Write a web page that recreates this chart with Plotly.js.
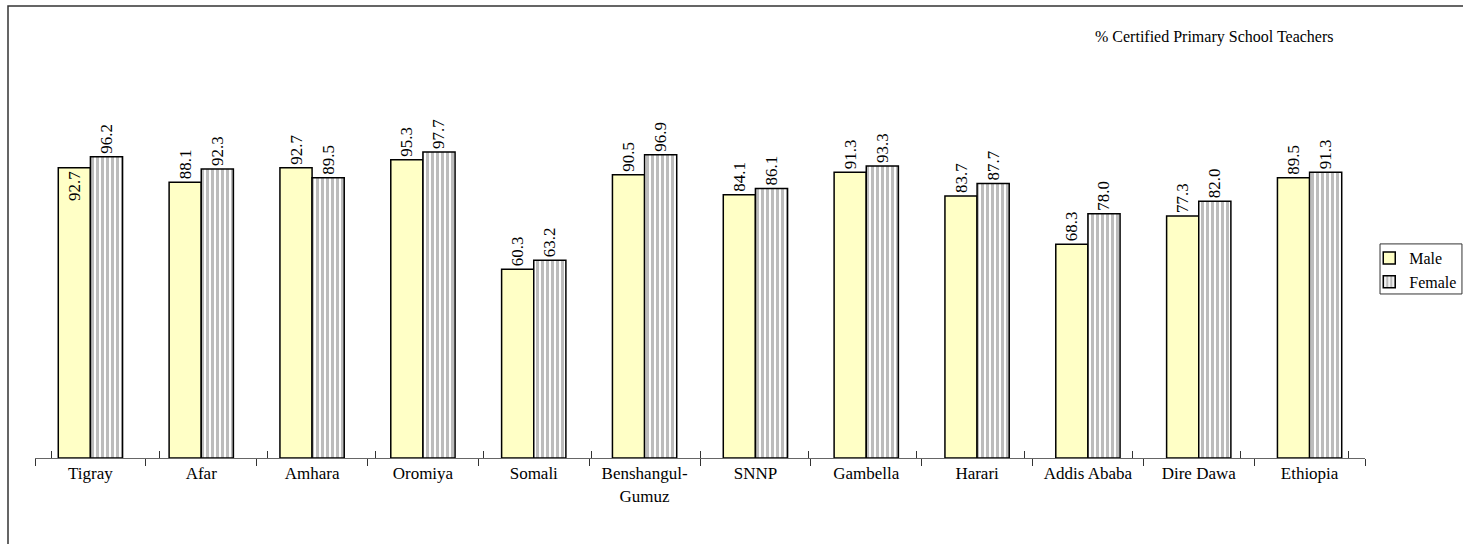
<!DOCTYPE html>
<html>
<head>
<meta charset="utf-8">
<script src="https://cdn.plot.ly/plotly-3.0.1.min.js"></script>
<style>html,body{margin:0;padding:0;background:#fff}</style>
</head>
<body>
<div id="chart" style="width:1463px;height:544px"></div>
<script>
const categories = ["Tigray","Afar","Amhara","Oromiya","Somali","Benshangul-<br>Gumuz","SNNP","Gambella","Harari","Addis Ababa","Dire Dawa","Ethiopia"];
const maleValues = [92.7,88.1,92.7,95.3,60.3,90.5,84.1,91.3,83.7,68.3,77.3,89.5];
const femaleValues = [96.2,92.3,89.5,97.7,63.2,96.9,86.1,93.3,87.7,78.0,82.0,91.3];
const maleTextPos = ["inside","outside","outside","outside","outside","outside","outside","outside","outside","outside","outside","outside"];

const font = {family: "Liberation Serif, Times New Roman, serif", color: "#000"};

const traces = [
  {
    type: "bar", name: "Male", x: categories, y: maleValues,
    marker: {color: "#FFFFC6", line: {color: "#000", width: 1.5}},
    texttemplate: "%{y:.1f}", textposition: maleTextPos, textangle: -90,
    insidetextanchor: "end", constraintext: "none",
    textfont: Object.assign({size: 17}, font), cliponaxis: false
  },
  {
    type: "bar", name: "Female", x: categories, y: femaleValues,
    marker: {color: "#ffffff", line: {color: "#000", width: 1.5},
             pattern: {shape: "|", fgcolor: "#7a7a7a", bgcolor: "#ffffff", size: 5, solidity: 0.6, fillmode: "overlay"}},
    texttemplate: "%{y:.1f}", textposition: "outside", textangle: -90,
    constraintext: "none",
    textfont: Object.assign({size: 17}, font), cliponaxis: false
  },
  {
    type: "scatter", mode: "markers", x: categories, y: categories.map(() => null),
    xaxis: "x2", yaxis: "y", showlegend: false, hoverinfo: "skip"
  }
];

const layout = {
  width: 1463, height: 544,
  margin: {l: 35, r: 98, t: 51, b: 86, autoexpand: false},
  paper_bgcolor: "#fff", plot_bgcolor: "#fff",
  barmode: "group", bargap: 0.42, bargroupgap: 0,
  font: Object.assign({size: 17}, font),
  showlegend: true,
  legend: {x: 1.0032, y: 0.533, xanchor: "left", yanchor: "top",
           borderwidth: 0, bgcolor: "rgba(0,0,0,0)", font: Object.assign({size: 16}, font),
           itemwidth: 30, tracegroupgap: 0},
  xaxis: {type: "category", tickson: "boundaries", ticks: "outside", ticklen: 7,
          tickcolor: "#333", tickwidth: 1, showline: true, linecolor: "#666", linewidth: 1,
          showgrid: false, tickfont: Object.assign({size: 17}, font), fixedrange: true},
  xaxis2: {type: "category", overlaying: "x", anchor: "y", side: "bottom",
           categoryarray: categories, categoryorder: "array",
           tickson: "boundaries", ticks: "inside", ticklen: 7, tickcolor: "#333", tickwidth: 1,
           showticklabels: false, showline: false, showgrid: false, fixedrange: true},
  yaxis: {range: [0, 130], visible: false, showgrid: false, zeroline: false, fixedrange: true},
  annotations: [{
    xref: "paper", yref: "paper", x: 0.978, y: 1.034, xanchor: "right", yanchor: "middle",
    text: "% Certified Primary School Teachers", showarrow: false,
    font: Object.assign({size: 16}, font)
  }],
  shapes: [
    {type: "rect", xref: "paper", yref: "paper", x0: -0.0203, x1: 1.2, y0: -0.4, y1: 1.1106,
     line: {color: "#333", width: 1.5}, fillcolor: "rgba(0,0,0,0)", layer: "below"},
    {type: "rect", xref: "paper", yref: "paper", x0: 1.0113, x1: 1.0729, y0: 0.403, y1: 0.526,
     line: {color: "#333", width: 1}, fillcolor: "rgba(0,0,0,0)"}
  ]
};

Plotly.newPlot("chart", traces, layout, {displayModeBar: false, staticPlot: true});
</script>
</body>
</html>
